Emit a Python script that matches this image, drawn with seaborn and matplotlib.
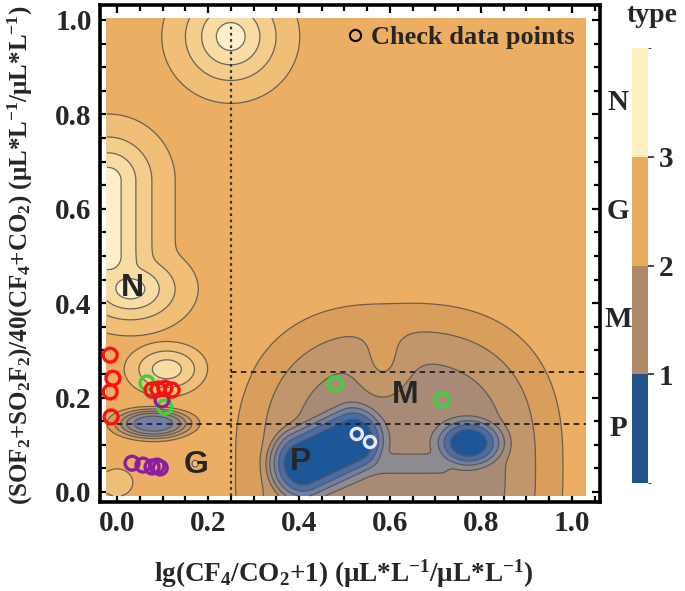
import numpy as np
import pandas as pd
import matplotlib
matplotlib.use("Agg")
import matplotlib.pyplot as plt
import matplotlib.ticker as ticker
from matplotlib.colors import ListedColormap, BoundaryNorm
from matplotlib.colorbar import ColorbarBase
from matplotlib.lines import Line2D
import seaborn as sns

sns.set_style("ticks")
plt.rcParams.update({
    "font.family": "serif",
    "font.serif": ["Liberation Serif", "DejaVu Serif"],
    "font.weight": "bold",
    "axes.labelweight": "bold",
    "mathtext.fontset": "custom",
    "mathtext.rm": "Liberation Serif:bold",
    "mathtext.it": "Liberation Serif:bold",
    "mathtext.bf": "Liberation Serif:bold",
    "mathtext.default": "rm",
})

# ---- check data points ----
red_x = [-0.015, -0.009, -0.015, -0.013, 0.077, 0.090, 0.105, 0.121]
red_y = [0.290, 0.241, 0.212, 0.159, 0.216, 0.218, 0.220, 0.216]
green_x = [0.066, 0.105, 0.479, 0.714]
green_y = [0.231, 0.180, 0.229, 0.195]
purple_x = [0.033, 0.057, 0.077, 0.088, 0.095, 0.099]
purple_y = [0.061, 0.057, 0.053, 0.055, 0.051, 0.195]
white_x = [0.527, 0.556]
white_y = [0.123, 0.106]

# ---- type surface: bumps/wells placed where the picture has them ----
# segment start / end, width (x, y), height, profile exponent, box exponent
pos_x0 = [0.25, -0.02, 0.03, 0.11, 0.00, 0.175]
pos_y0 = [0.965, 0.66, 0.43, 0.26, 0.02, 0.06]
pos_x1 = [0.25, -0.02, 0.03, 0.11, 0.00, 0.175]
pos_y1 = [0.965, 0.50, 0.43, 0.26, 0.02, 0.06]
pos_sx = [0.107, 0.105, 0.105, 0.08, 0.06, 0.04]
pos_sy = [0.100, 0.10, 0.07, 0.05, 0.05, 0.04]
pos_amp = [1.35, 1.33, 1.35, 1.0, 0.35, 0.30]
pos_pow = [1.5, 1.5, 1.5, 2.0, 2.0, 2.0]
pos_box = [2, 2, 2, 2, 2, 2]

neg_x0 = [0.62, 0.41, 0.773, 0.57, 0.08]
neg_y0 = [0.05, 0.06, 0.104, 0.06, 0.145]
neg_x1 = [0.62, 0.52, 0.773, 0.71, 0.08]
neg_y1 = [0.05, 0.11, 0.104, 0.06, 0.145]
neg_sx = [0.335, 0.08, 0.085, 0.045, 0.08]
neg_sy = [0.326, 0.085, 0.06, 0.04, 0.03]
neg_amp = [-0.95, -2.2, -2.2, -1.04, -1.6]
neg_pow = [4.0, 3.0, 2.5, 2.0, 2.5]
neg_box = [2.6, 2, 2, 2, 2]

# notch between the two M lobes (fraction of the well depth removed)
notch_x, notch_y = 0.585, 0.27
notch_sx, notch_sy = 0.055, 0.075
notch_depth = 0.4

base_type = 2.5

levels = [-2, 0.6, 0.9, 1.2, 1.5, 1.75, 2.0, 2.25, 2.75, 3.05, 3.35, 3.65, 6]
band_colors = ["#1E5799", "#4A6CA8", "#6F7FA8", "#8E8A92", "#A78B77", "#C2966B",
               "#D99E5C", "#EBAE63", "#F0BE76", "#F4CC8B", "#F8DCA4", "#FDEFC8"]

type_colors = ["#22528C", "#B08A66", "#EBAB5E", "#FDF0C0"]
type_names = ["P", "M", "G", "N"]


def kernel(X, Y, x0, y0, x1, y1, sx, sy, amp, pw, box):
    # offset from a segment, measured in units of the kernel width
    ax_, ay_ = x0 / sx, y0 / sy
    dx, dy = x1 / sx - ax_, y1 / sy - ay_
    px, py = X / sx, Y / sy
    L2 = dx * dx + dy * dy
    t = 0.0 if L2 == 0 else np.clip(((px - ax_) * dx + (py - ay_) * dy) / L2, 0, 1)
    ux = np.abs(px - (ax_ + t * dx))
    uy = np.abs(py - (ay_ + t * dy))
    r = (ux ** box + uy ** box) ** (1 / box)
    return amp * np.exp(-r ** pw)


gx = np.linspace(-0.022, 1.03, 500)
gy = np.linspace(-0.008, 1.004, 500)
X, Y = np.meshgrid(gx, gy)

pos = [kernel(X, Y, *k) for k in zip(pos_x0, pos_y0, pos_x1, pos_y1, pos_sx, pos_sy,
                                        pos_amp, pos_pow, pos_box)]
neg = [kernel(X, Y, *k) for k in zip(neg_x0, neg_y0, neg_x1, neg_y1, neg_sx, neg_sy,
                                        neg_amp, neg_pow, neg_box)]
notch = kernel(X, Y, notch_x, notch_y, notch_x, notch_y, notch_sx, notch_sy,
               notch_depth, 2.0, 2)
q = 6
Z = base_type + np.sum([f ** q for f in pos], axis=0) ** (1 / q) \
    - np.sum([np.abs(f) ** q for f in neg], axis=0) ** (1 / q) * (1 - notch)

fig = plt.figure(figsize=(6.85, 5.91), dpi=100)
ax = fig.add_axes([100 / 685, 1 - 502 / 591, 500 / 685, 497 / 591])
ax.set_facecolor("white")

ax.contourf(X, Y, Z, levels=levels, colors=band_colors)
ax.contour(X, Y, Z, levels=levels[1:-1], colors="#505050", linewidths=0.9, alpha=0.85)

# region borders
ax.plot([0.25, 0.25], [-0.008, 0.99], color="#333333", lw=1.6, ls=(0, (1.2, 1.6)))
ax.plot([-0.022, 1.03], [0.145, 0.145], color="#222222", lw=1.3, ls=(0, (3, 2.5)))
ax.plot([0.25, 1.03], [0.255, 0.255], color="#222222", lw=1.3, ls=(0, (3, 2.5)))

pts = pd.DataFrame({
    "x": green_x + purple_x + red_x + white_x,
    "y": green_y + purple_y + red_y + white_y,
    "group": ["green"] * len(green_x) + ["purple"] * len(purple_x)
             + ["red"] * len(red_x) + ["white"] * len(white_x),
})
edge = {"green": "#3BD23B", "purple": "#8A1E9E", "red": "#FF1010", "white": "#E6E6F6"}
for g in ["green", "purple", "red", "white"]:
    d = pts[pts.group == g]
    sns.scatterplot(data=d, x="x", y="y", ax=ax, s=100 if g != "white" else 65,
                    facecolor="none", edgecolor=edge[g], linewidth=2.4,
                    legend=False, zorder=5)

for name, tx, ty in [("N", 0.035, 0.432), ("G", 0.174, 0.057),
                     ("P", 0.403, 0.064), ("M", 0.634, 0.205)]:
    ax.text(tx, ty, name, fontsize=23, fontweight="bold", family="Liberation Sans",
            ha="center", va="center", zorder=6)

ax.set_xlim(-17 / 455, 483 / 455)
ax.set_ylim(-10 / 472, 487 / 472)
ax.xaxis.set_major_locator(ticker.MultipleLocator(0.2))
ax.yaxis.set_major_locator(ticker.MultipleLocator(0.2))
ax.xaxis.set_minor_locator(ticker.MultipleLocator(0.05))
ax.yaxis.set_minor_locator(ticker.MultipleLocator(0.05))
ax.xaxis.set_major_formatter(ticker.StrMethodFormatter("{x:.1f}"))
ax.yaxis.set_major_formatter(ticker.StrMethodFormatter("{x:.1f}"))
ax.tick_params(which="both", direction="in", top=True, right=True, width=1.6,
               labelsize=21, color="black")
ax.tick_params(which="major", length=6, pad=6)
ax.tick_params(which="minor", length=4)
for sp in ax.spines.values():
    sp.set_linewidth(2.6)
    sp.set_color("black")

ax.set_xlabel(r"lg(CF$_4$/CO$_2$+1) (μL*L$^{-1}$/μL*L$^{-1}$)", fontsize=19.5,
              fontweight="bold")
ax.set_ylabel(r"(SOF$_2$+SO$_2$F$_2$)/40(CF$_4$+CO$_2$) (μL*L$^{-1}$/μL*L$^{-1}$)",
              fontsize=18, fontweight="bold")
ax.xaxis.set_label_coords(0.488, -0.112)
ax.yaxis.set_label_coords(-0.13, 0.497)

handle = Line2D([], [], ls="none", marker="o", markersize=8, markerfacecolor="none",
                markeredgecolor="black", markeredgewidth=1.5)
ax.legend([handle], ["Check data points"], loc="upper right",
          bbox_to_anchor=(0.975, 0.985), frameon=False, borderpad=0,
          handletextpad=0.15, handlelength=0.9, prop={"size": 19, "weight": "bold"})

# colour bar for the four types
cax = fig.add_axes([632 / 685, 1 - 483 / 591, 16 / 685, 435 / 591])
cb = ColorbarBase(cax, cmap=ListedColormap(type_colors),
                  norm=BoundaryNorm([0, 1, 2, 3, 4], 4), ticks=[1, 2, 3])
cb.outline.set_visible(False)
cax.tick_params(labelsize=21, length=4, width=1.2, direction="out")
cax.set_yticklabels(["1", "2", "3"], fontweight="bold")
for i, name in enumerate(type_names):
    fig.text(618 / 685, cax.get_position().y0 + (i + 0.5) / 4 * cax.get_position().height,
             name, fontsize=21, fontweight="bold", ha="center", va="center")
fig.text(652 / 685, 1 - 16 / 591, "type", fontsize=20, fontweight="bold",
         ha="center", va="center")

fig.savefig("out.png", dpi=100)
